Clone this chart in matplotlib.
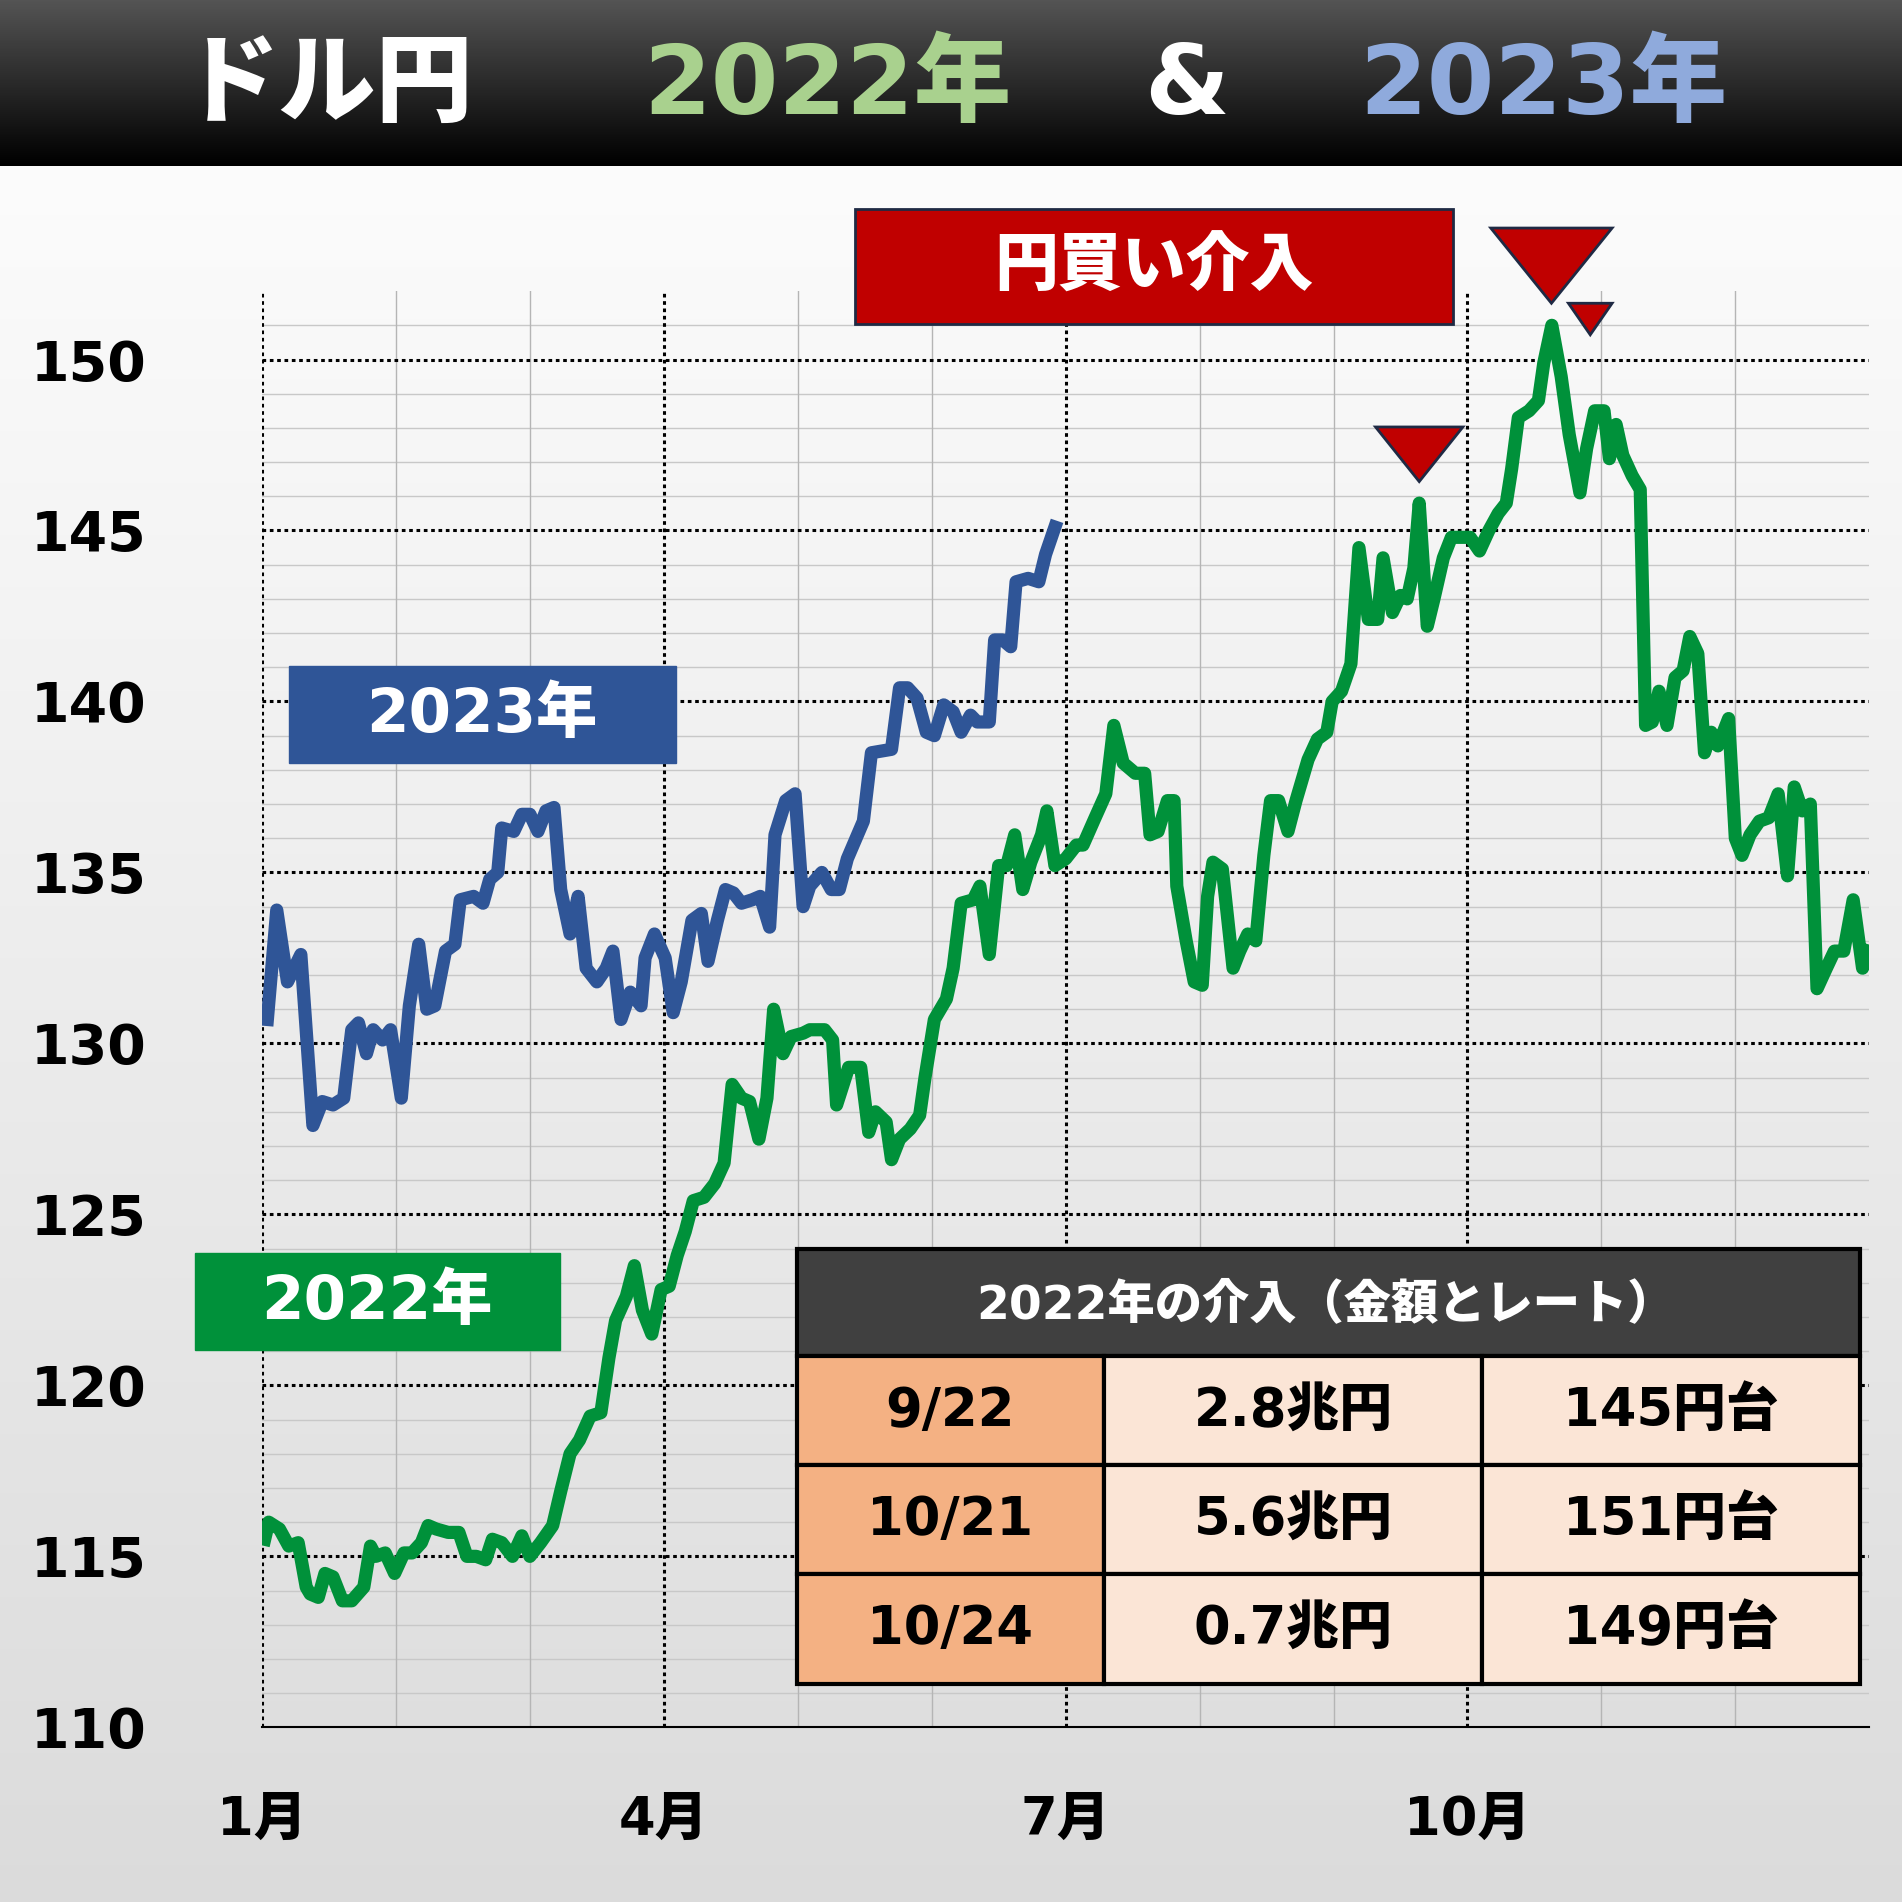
import numpy as np
import matplotlib
matplotlib.use("Agg")
import matplotlib.pyplot as plt
from matplotlib.patches import Rectangle, Polygon

plt.rcParams['font.family'] = ['DejaVu Sans', 'Noto Sans CJK JP']

# ---- data: (month position, USD/JPY) ----
usdjpy_2023 = [(0.04,130.7),(0.11,133.9),(0.19,131.8),(0.29,132.6),(0.38,127.6),(0.45,128.3),(0.53,128.2),(0.61,128.4),
 (0.67,130.4),(0.72,130.6),(0.78,129.7),(0.83,130.4),(0.90,130.1),(0.96,130.4),(1.04,128.4),(1.10,131.1),(1.17,132.9),
 (1.23,131.0),(1.29,131.1),(1.37,132.7),(1.44,132.9),(1.48,134.2),(1.58,134.3),(1.65,134.1),(1.70,134.8),(1.76,135.0),
 (1.79,136.3),(1.88,136.2),(1.94,136.7),(2.00,136.7),(2.06,136.2),(2.12,136.8),(2.18,136.9),(2.23,134.5),(2.30,133.2),
 (2.36,134.3),(2.42,132.2),(2.50,131.8),(2.57,132.2),(2.62,132.7),(2.68,130.7),(2.75,131.5),(2.83,131.1),(2.86,132.5),
 (2.93,133.2),(3.01,132.5),(3.07,130.9),(3.13,131.8),(3.21,133.6),(3.28,133.8),(3.33,132.4),(3.40,133.6),(3.46,134.5),
 (3.52,134.4),(3.58,134.1),(3.66,134.2),(3.72,134.3),(3.79,133.4),(3.83,136.1),(3.91,137.1),(3.98,137.3),(4.04,134.0),
 (4.09,134.6),(4.18,135.0),(4.25,134.5),(4.31,134.5),(4.37,135.4),(4.49,136.5),(4.55,138.5),(4.70,138.6),(4.76,140.4),
 (4.82,140.4),(4.89,140.1),(4.96,139.1),(5.02,139.0),(5.09,139.9),(5.16,139.7),(5.22,139.1),(5.29,139.6),(5.34,139.4),
 (5.43,139.4),(5.47,141.8),(5.53,141.8),(5.59,141.6),(5.63,143.5),(5.72,143.6),(5.80,143.5),(5.85,144.3),(5.92,145.1)]

usdjpy_2022 = [(0.02,115.5),(0.05,116.0),(0.13,115.8),(0.20,115.3),(0.27,115.4),(0.33,114.1),(0.36,113.9),(0.42,113.8),
 (0.47,114.5),(0.53,114.4),(0.60,113.7),(0.67,113.7),(0.76,114.1),(0.81,115.3),(0.85,115.0),(0.92,115.1),(0.99,114.5),
 (1.06,115.1),(1.12,115.1),(1.19,115.4),(1.24,115.9),(1.30,115.8),(1.39,115.7),(1.47,115.7),(1.53,115.0),(1.60,115.0),
 (1.67,114.9),(1.72,115.5),(1.79,115.4),(1.87,115.0),(1.94,115.6),(2.00,115.0),(2.08,115.4),(2.17,115.9),(2.23,116.9),
 (2.30,118.0),(2.37,118.4),(2.45,119.1),(2.53,119.2),(2.59,120.8),(2.64,121.9),(2.72,122.6),(2.78,123.5),(2.84,122.2),
 (2.91,121.5),(2.98,122.8),(3.04,122.9),(3.10,123.8),(3.16,124.5),(3.22,125.4),(3.30,125.5),(3.38,125.9),(3.45,126.5),
 (3.51,128.8),(3.58,128.4),(3.64,128.3),(3.71,127.2),(3.77,128.4),(3.82,131.0),(3.89,129.7),(3.95,130.2),(4.04,130.3),
 (4.09,130.4),(4.20,130.4),(4.26,130.1),(4.29,128.2),(4.38,129.3),(4.47,129.3),(4.53,127.4),(4.58,128.0),(4.66,127.7),
 (4.70,126.6),(4.76,127.2),(4.84,127.5),(4.91,127.9),(4.95,129.0),(5.02,130.7),(5.11,131.3),(5.16,132.2),(5.22,134.1),
 (5.31,134.2),(5.36,134.6),(5.43,132.6),(5.50,135.2),(5.56,135.2),(5.62,136.1),(5.68,134.5),(5.74,135.3),(5.82,136.1),
 (5.86,136.8),(5.92,135.2),(6.00,135.4),(6.08,135.8),(6.13,135.8),(6.22,136.6),(6.30,137.3),(6.36,139.3),(6.43,138.2),
 (6.52,137.9),(6.59,137.9),(6.63,136.1),(6.69,136.2),(6.76,137.1),(6.81,137.1),(6.83,134.6),(6.90,133.0),(6.96,131.8),
 (7.02,131.7),(7.06,134.3),(7.10,135.3),(7.17,135.1),(7.25,132.2),(7.30,132.7),(7.36,133.2),(7.42,133.0),(7.48,135.5),
 (7.53,137.1),(7.59,137.1),(7.66,136.2),(7.72,137.1),(7.81,138.3),(7.88,138.9),(7.95,139.1),(7.99,140.0),(8.06,140.3),
 (8.13,141.1),(8.19,144.5),(8.26,142.4),(8.33,142.4),(8.37,144.2),(8.44,142.6),(8.50,143.1),(8.55,143.0),(8.60,143.9),
 (8.64,145.8),(8.70,142.2),(8.75,143.0),(8.82,144.2),(8.88,144.8),(8.96,144.8),(9.02,144.8),(9.09,144.4),(9.16,145.0),
 (9.23,145.5),(9.29,145.8),(9.33,146.8),(9.38,148.3),(9.46,148.5),(9.53,148.8),(9.57,149.9),(9.63,151.0),(9.70,149.5),
 (9.76,147.8),(9.84,146.1),(9.89,147.4),(9.95,148.5),(10.02,148.5),(10.06,147.1),(10.11,148.1),(10.16,147.2),(10.23,146.6),
 (10.29,146.2),(10.33,139.3),(10.38,139.4),(10.43,140.3),(10.49,139.3),(10.55,140.7),(10.61,140.9),(10.66,141.9),
 (10.72,141.4),(10.77,138.5),(10.82,139.1),(10.87,138.7),(10.95,139.5),(11.00,136.0),(11.05,135.5),(11.11,136.1),
 (11.18,136.5),(11.25,136.6),(11.32,137.3),(11.39,134.9),(11.44,137.5),(11.50,136.8),(11.56,137.0),(11.61,131.6),
 (11.68,132.2),(11.74,132.7),(11.81,132.7),(11.88,134.2),(11.95,132.2),(11.99,132.7)]

month_ticks = [0, 3, 6, 9]
month_labels = ['1月', '4月', '7月', '10月']
y_ticks = [110, 115, 120, 125, 130, 135, 140, 145, 150]

table_header = '2022年の介入（金額とレート）'
table_dates = ['9/22', '10/21', '10/24']
table_amounts = ['2.8兆円', '5.6兆円', '0.7兆円']
table_rates = ['145円台', '151円台', '149円台']

GREEN = '#00913a'
BLUE = '#2f5597'
RED = '#c00000'
W = 1568.0

fig = plt.figure(figsize=(19.02, 19.02), dpi=100)

bg = fig.add_axes([0, 0, 1, 1], zorder=-10)
grad = np.linspace(1.0, 0.86, 256).reshape(-1, 1)
bg.imshow(np.dstack([grad, grad, grad]), aspect='auto', extent=[0, 1, 0, 1])
bg.axis('off')

ax = fig.add_axes([216/W, 1-1424/W, 1325/W, (1424-240)/W], zorder=1)
ax.patch.set_alpha(0)
ax.set_xlim(0, 12)
ax.set_ylim(110, 152)
for v in range(111, 152):
    if v % 5:
        ax.axhline(v, color='#c8c8c8', lw=1, zorder=0)
for v in range(115, 151, 5):
    ax.axhline(v, color='black', lw=2.2, ls=(0, (1.2, 1.2)), zorder=1)
for m in range(1, 13):
    if m % 3:
        ax.axvline(m, color='#b5b5b5', lw=1, zorder=0)
for m in month_ticks:
    ax.axvline(m, color='black', lw=2.2, ls=(0, (1.2, 1.2)), zorder=1)
for s in ['top', 'right', 'left']:
    ax.spines[s].set_visible(False)
ax.spines['bottom'].set_linewidth(1.5)
ax.tick_params(length=0)
ax.set_yticks(y_ticks)
ax.set_yticklabels([str(v) for v in y_ticks], fontsize=40, fontweight='heavy')
ax.tick_params(axis='y', pad=0)
ax.set_xticks(month_ticks)
ax.set_xticklabels(month_labels, fontsize=38, fontweight='heavy')
ax.tick_params(axis='x', pad=48)
fig.canvas.draw()
for t in ax.get_yticklabels():
    t.set_horizontalalignment('left')
    t.set_x(-(216-25)/1325)

x22, y22 = zip(*usdjpy_2022)
x23, y23 = zip(*usdjpy_2023)
ax.plot(x22, y22, color=GREEN, lw=9.5, solid_joinstyle='round', zorder=3)
ax.plot(x23, y23, color=BLUE, lw=9.5, solid_joinstyle='round', zorder=3)

ov = fig.add_axes([0, 0, 1, 1], zorder=5)
ov.axis('off')
ov.patch.set_alpha(0)
tg = np.linspace(0.33, 0.0, 64).reshape(-1, 1)
ov.imshow(np.dstack([tg, tg, tg]), aspect='auto', extent=[0, W, 137, 0], zorder=0)
ov.set_xlim(0, W); ov.set_ylim(W, 0)

ty = 72
kw = dict(fontsize=70, fontweight='heavy', ha='center', va='center')
ov.text(270, ty, 'ドル円', color='white', **kw)
ov.text(682, ty, '2022年', color='#a9d18e', **kw)
ov.text(978, ty, '&', color='white', **kw)
ov.text(1272, ty, '2023年', color='#8faadc', **kw)

ov.add_patch(Rectangle((238, 549), 319, 80, color=BLUE, zorder=2))
ov.text(397, 590, '2023年', color='white', fontsize=44, fontweight='heavy', ha='center', va='center', zorder=3)
ov.add_patch(Rectangle((161, 1033), 301, 80, color=GREEN, zorder=2))
ov.text(311, 1074, '2022年', color='white', fontsize=44, fontweight='heavy', ha='center', va='center', zorder=3)

ov.add_patch(Rectangle((705, 172), 493, 95, facecolor=RED, edgecolor='#1f2a44', lw=2, zorder=2))
ov.text(951, 220, '円買い介入', color='white', fontsize=46, fontweight='heavy', ha='center', va='center',
        family=['Noto Sans CJK JP'], zorder=3)
for (cx, top, w, h) in [(1170, 352, 72, 45), (1279, 188, 100, 62), (1311, 250, 36, 26)]:
    ov.add_patch(Polygon([(cx-w/2, top), (cx+w/2, top), (cx, top+h)], closed=True,
                         facecolor=RED, edgecolor='#1f2a44', lw=2, zorder=2))

tx0, tx1 = 657, 1533
ov.add_patch(Rectangle((tx0, 1030), tx1-tx0, 88, facecolor='#404040', edgecolor='black', lw=3, zorder=2))
ov.text(1093, 1076, table_header, color='white', fontsize=34, fontweight='heavy', ha='center', va='center', zorder=3)
cols = [(657, 910, '#f4b183', table_dates), (910, 1222, '#fbe5d6', table_amounts), (1222, 1533, '#fbe5d6', table_rates)]
for i in range(3):
    y0 = 1118 + i*90
    for (a, b, c, texts) in cols:
        ov.add_patch(Rectangle((a, y0), b-a, 90, facecolor=c, edgecolor='black', lw=3, zorder=2))
        ov.text((a+b)/2, y0+45, texts[i], color='black', fontsize=38, fontweight='heavy',
                ha='center', va='center', zorder=3)

fig.savefig('out.png', dpi=100)
